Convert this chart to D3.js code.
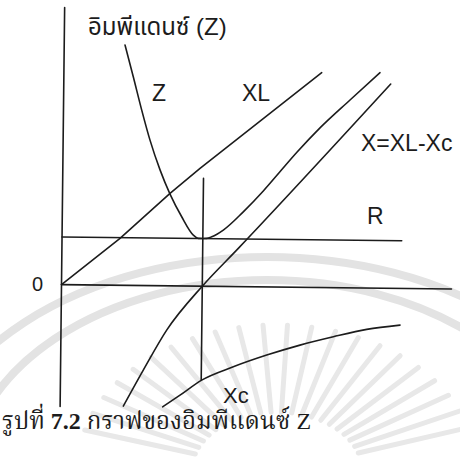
<!DOCTYPE html>
<html>
<head>
<meta charset="utf-8">
<script src="https://cdn.jsdelivr.net/npm/d3@7"></script>
<style>
  html, body { margin: 0; padding: 0; background: #ffffff; }
  svg { display: block; }
</style>
</head>
<body>
<svg id="chart" width="460" height="457"></svg>
<script>
// Series RLC circuit: impedance components against frequency (arbitrary units)
const freqDomain = [0, 100];
const ohmDomain = [-44, 100];

const resistanceR = 17.2;   // R, constant with frequency
const resonanceF = 36.1;    // f0, where XL = Xc

// XL rises with frequency
const xlFreq = [0, 14.87, 27.56, 35.18, 66.1];
const xlOhm  = [0, 16.92, 33.37, 42.52, 77.53];

// Z = sqrt(R^2 + X^2), minimum (= R) at resonance
const zFreq = [15.59, 17.8, 20.06, 22.27, 24.93, 27.56, 30.62, 33.65, 34.94, 36.1, 37.1, 38.37, 41.33, 46.4, 51.47, 55.68, 59.91, 65.82, 73.44, 81.05];
const zOhm  = [86.7, 75.3, 63.3, 52.5, 41.8, 33.1, 24.97, 18.41, 17.24, 17.2, 17.27, 17.87, 20.34, 27.0, 34.6, 41.6, 48.6, 57.6, 67.8, 77.77];

// X = XL - Xc, crosses zero at resonance
const xFreq = [16.2, 21.22, 27.1, 36.1, 45.23, 83.83];
const xOhm  = [-43.6, -30.53, -16.0, 0, 13.79, 73.73];

// Xc drawn below the axis
const xcFreq = [26.3, 30.71, 36.23, 44.29, 52.82, 61.33, 69.84, 78.39, 86.91];
const xcOhm  = [-43.7, -39.41, -33.9, -28.97, -24.61, -20.87, -17.73, -14.92, -13.23];

const labels = {
  axis: "อิมพีแดนซ์ (Z)",
  z: "Z", xl: "XL", x: "X=XL-Xc", r: "R", xc: "Xc", zero: "0",
  captionA: "รูปที่ ", captionB: "7.2", captionC: " กราฟของอิมพีแดนซ์ Z"
};

const svg = d3.select("#chart");
const ink = "#1c1c1c";
const sans = "Arial, 'Liberation Sans', 'Noto Sans Thai', 'Loma', 'Garuda', sans-serif";
const serif = "'Times New Roman', 'Liberation Serif', 'Noto Serif Thai', 'Norasi', serif";

// faint emblem printed behind the figure
const mark = svg.append("g").attr("fill", "none").attr("stroke", "#e3e3e3");
mark.append("ellipse").attr("cx", 267).attr("cy", 480).attr("rx", 343).attr("ry", 223).attr("stroke-width", 8);
mark.append("ellipse").attr("cx", 267).attr("cy", 480).attr("rx", 300).attr("ry", 200).attr("stroke-width", 8);
const rayAngles = d3.range(196, 345, 7);
mark.selectAll("line.ray").data(rayAngles).join("line")
  .attr("class", "ray")
  .attr("stroke", "#e8e8e8").attr("stroke-width", 5).attr("stroke-linecap", "round")
  .attr("x1", a => 277 + 85 * Math.cos(a * Math.PI / 180))
  .attr("y1", a => 470 + 58 * Math.sin(a * Math.PI / 180))
  .attr("x2", a => 277 + 200 * Math.cos(a * Math.PI / 180))
  .attr("y2", a => 470 + 145 * Math.sin(a * Math.PI / 180));

// plot frame, origin at the crossing of the axes, slightly rotated
const plot = svg.append("g").attr("transform", "translate(61.5,284.5) rotate(0.65)");
const x = d3.scaleLinear().domain(freqDomain).range([0, 390]);
const y = d3.scaleLinear().domain(ohmDomain).range([122, -277]);

const strokeStyle = sel => sel.attr("stroke", ink).attr("stroke-width", 1.6).attr("fill", "none")
  .attr("stroke-linecap", "round").attr("stroke-linejoin", "round");

// vertical (impedance) axis
plot.append("line").call(strokeStyle)
  .attr("x1", x(0)).attr("x2", x(0)).attr("y1", y(ohmDomain[0])).attr("y2", y(ohmDomain[1]));
// zero line
plot.append("line").call(strokeStyle)
  .attr("x1", x(0)).attr("x2", x(freqDomain[1])).attr("y1", y(0)).attr("y2", y(0));
// resistance R
plot.append("line").call(strokeStyle)
  .attr("x1", x(0)).attr("x2", x(87.1)).attr("y1", y(resistanceR)).attr("y2", y(resistanceR));
// resonance marker
plot.append("line").call(strokeStyle)
  .attr("x1", x(resonanceF)).attr("x2", x(resonanceF)).attr("y1", y(38.9)).attr("y2", y(-33.9));

const line = d3.line().x(d => x(d[0])).y(d => y(d[1]));
const pairs = (fs, vs) => fs.map((f, i) => [f, vs[i]]);

plot.append("path").call(strokeStyle).attr("d", line.curve(d3.curveLinear)(pairs(xlFreq, xlOhm)));
plot.append("path").call(strokeStyle).attr("d", line.curve(d3.curveMonotoneX)(pairs(zFreq, zOhm)));
plot.append("path").call(strokeStyle).attr("d", line.curve(d3.curveMonotoneX)(pairs(xFreq, xOhm)));
plot.append("path").call(strokeStyle).attr("d", line.curve(d3.curveMonotoneX)(pairs(xcFreq, xcOhm)));

// text
const text = (str, px, py, size, family, weight) => svg.append("text")
  .attr("x", px).attr("y", py).attr("font-size", size).attr("font-family", family)
  .attr("font-weight", weight || "normal").attr("fill", ink).text(str);

text(labels.axis, 88, 35, 24, sans);
text(labels.z, 152, 101, 23, sans);
text(labels.xl, 242, 101, 23, sans);
text(labels.x, 361, 151, 23, sans);
text(labels.r, 367, 224, 23, sans);
text(labels.xc, 223, 403, 22, sans);
text(labels.zero, 32, 291, 20, sans);

const cap = svg.append("text").attr("x", 2).attr("y", 429).attr("font-size", 24)
  .attr("font-family", serif).attr("fill", ink);
cap.append("tspan").text(labels.captionA);
cap.append("tspan").attr("font-weight", "bold").text(labels.captionB);
cap.append("tspan").text(labels.captionC);
</script>
</body>
</html>
